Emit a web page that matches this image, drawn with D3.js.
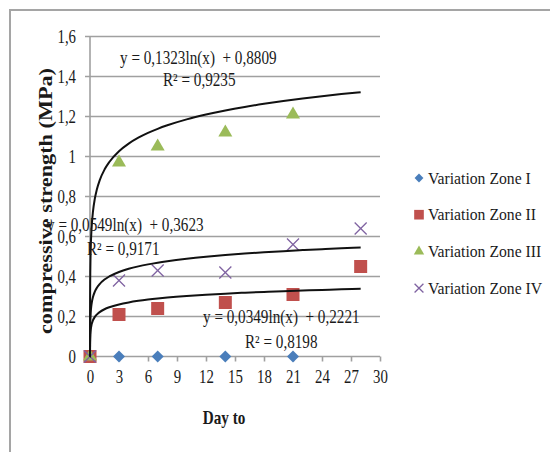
<!DOCTYPE html>
<html>
<head>
<meta charset="utf-8">
<script src="https://cdn.jsdelivr.net/npm/d3@7"></script>
<style>
  body { margin: 0; background: #fff; }
  text { font-family: "Liberation Serif", "Times New Roman", serif; fill: #1a1a1a; }
</style>
</head>
<body>
<svg id="chart"></svg>
<script>
// data
var zoneNames = ["Variation Zone I", "Variation Zone II", "Variation Zone III", "Variation Zone IV"];
var zoneColors = ["#4a7ebb", "#c0504d", "#9bbb59", "#8064a2"];
var zoneDays = [
    [0, 3, 7, 14, 21],
    [0, 3, 7, 14, 21, 28],
    [0, 3, 7, 14, 21],
    [0, 3, 7, 14, 21, 28]
];
var zoneValues = [
    [0, 0, 0, 0, 0],
    [0, 0.21, 0.24, 0.27, 0.31, 0.45],
    [0, 0.97, 1.05, 1.12, 1.21],
    [0, 0.38, 0.43, 0.42, 0.56, 0.64]
];
// log trendlines y = a ln(x) + b  (zones II, III, IV)
var trendZones = [1, 2, 3];
var trendA = [0.0349, 0.1323, 0.0549];
var trendB = [0.2221, 0.8809, 0.3623];
var trendEq = ["y = 0,0349ln(x)  + 0,2221", "y = 0,1323ln(x)  + 0,8809", "y = 0,0549ln(x)  + 0,3623"];
var trendR2 = ["R² = 0,8198", "R² = 0,9235", "R² = 0,9171"];

var xTicks = [0, 3, 6, 9, 12, 15, 18, 21, 24, 27, 30];
var yTicks = [0, 0.2, 0.4, 0.6, 0.8, 1, 1.2, 1.4, 1.6];

var width = 550, height = 452;

var svg = d3.select("#chart")
    .attr("width", width)
    .attr("height", height);

// the picture's text is tall and narrow, squeeze glyphs sideways
function squeeze(sel, f) {
    sel.each(function () {
        var w = this.getComputedTextLength();
        d3.select(this).attr("textLength", w * f).attr("lengthAdjust", "spacingAndGlyphs");
    });
}

// outer frame (cut by picture edges)
svg.append("path")
    .attr("d", "M10," + height + "V10H" + width)
    .attr("fill", "none")
    .attr("stroke", "#a5a5a5")
    .attr("stroke-width", 2);

var x = d3.scaleLinear().domain([0, 30]).range([90, 380]);
var y = d3.scaleLinear().domain([0, 1.6]).range([356.5, 36.5]);

var fmt = function (d) { return String(d).replace(".", ","); };

// gridlines + y ticks
svg.append("g")
    .selectAll("line")
    .data(yTicks)
    .enter().append("line")
    .attr("x1", 85)
    .attr("x2", x(30))
    .attr("y1", function (d) { return y(d); })
    .attr("y2", function (d) { return y(d); })
    .attr("stroke", "#a0a0a0")
    .attr("stroke-width", 1.6);

svg.append("g")
    .selectAll("text")
    .data(yTicks)
    .enter().append("text")
    .attr("x", 76)
    .attr("y", function (d) { return y(d); })
    .attr("dy", "0.35em")
    .attr("text-anchor", "end")
    .style("font-size", "19px")
    .text(fmt)
    .call(squeeze, 0.78);

// y axis line
svg.append("line")
    .attr("x1", x(0)).attr("x2", x(0))
    .attr("y1", y(1.6)).attr("y2", y(0))
    .attr("stroke", "#a0a0a0")
    .attr("stroke-width", 1.6);

// x axis ticks
var xAxis = svg.append("g")
    .attr("transform", "translate(0," + y(0) + ")")
    .call(d3.axisBottom(x).tickValues(xTicks).tickSize(5).tickPadding(8).tickFormat(fmt));
xAxis.select(".domain").remove();
xAxis.selectAll(".tick line").attr("stroke", "#a0a0a0").attr("stroke-width", 1.6);
xAxis.selectAll(".tick text")
    .style("font-family", "Liberation Serif, serif")
    .style("font-size", "19px")
    .attr("fill", "#1a1a1a")
    .call(squeeze, 0.78);

// axis titles
svg.append("text")
    .attr("transform", "translate(52,201) rotate(-90)")
    .attr("text-anchor", "middle")
    .attr("textLength", 266)
    .attr("lengthAdjust", "spacingAndGlyphs")
    .style("font-size", "18px")
    .style("font-weight", "bold")
    .text("compressive strength (MPa)");

svg.append("text")
    .attr("x", 224)
    .attr("y", 417)
    .attr("dy", "0.35em")
    .attr("text-anchor", "middle")
    .style("font-size", "19px")
    .style("font-weight", "bold")
    .text("Day to")
    .call(squeeze, 0.8);

// markers
var symbolTypes = [d3.symbolSquare, d3.symbolSquare, d3.symbolTriangle, d3.symbolX];
var symbolSizes = [72, 169, 85, 96];
var symbolRot = [45, 0, 0, 0];

function drawMarker(g, k, scaleFactor) {
    var p = g.append("path")
        .attr("d", d3.symbol().type(symbolTypes[k]).size(symbolSizes[k] * scaleFactor)());
    if (k === 3) {
        p.attr("fill", "none").attr("stroke", zoneColors[k]).attr("stroke-width", 1.3);
    } else {
        p.attr("fill", zoneColors[k]);
    }
    return p;
}

zoneNames.forEach(function (name, k) {
    var pts = zoneDays[k].map(function (d, i) { return [d, zoneValues[k][i]]; });
    svg.append("g")
        .selectAll("g")
        .data(pts)
        .enter().append("g")
        .attr("transform", function (d) {
            return "translate(" + x(d[0]) + "," + y(d[1]) + ") rotate(" + symbolRot[k] + ")";
        })
        .each(function () { drawMarker(d3.select(this), k, 1); });
});

// trendlines
var trendX = [0.001, 0.0015, 0.002, 0.003, 0.005, 0.007, 0.01, 0.015, 0.02, 0.03, 0.05, 0.07, 0.1, 0.15, 0.2, 0.3,
    0.5, 0.7, 1, 1.5, 2, 3, 4, 5, 6, 7, 8, 10, 12, 14, 16, 18, 20, 22, 24, 26, 28];
var line = d3.line()
    .x(function (d) { return x(d[0]); })
    .y(function (d) { return y(Math.max(0, d[1])); })
    .curve(d3.curveMonotoneX);

trendZones.forEach(function (k, j) {
    var pts = trendX.map(function (t) { return [t, trendA[j] * Math.log(t) + trendB[j]]; });
    svg.append("path")
        .datum(pts)
        .attr("d", line)
        .attr("fill", "none")
        .attr("stroke", "#111")
        .attr("stroke-width", 2);
});

// trendline labels (eq left x, eq y, r2 left x, r2 y)
var labelPos = [[203, 317, 245, 342], [120, 58, 163, 80], [47, 225, 87, 249]];
trendZones.forEach(function (k, j) {
    var p = labelPos[j];
    svg.append("text")
        .attr("x", p[0]).attr("y", p[1]).attr("dy", "0.35em")
        .style("font-size", "18.5px")
        .style("white-space", "pre")
        .text(trendEq[j])
        .call(squeeze, 0.82);
    svg.append("text")
        .attr("x", p[2]).attr("y", p[3]).attr("dy", "0.35em")
        .style("font-size", "18.5px")
        .text(trendR2[j])
        .call(squeeze, 0.82);
});

// legend
var legend = svg.append("g")
    .selectAll("g")
    .data(zoneNames)
    .enter().append("g")
    .attr("transform", function (d, i) { return "translate(419," + (178 + i * 36.7) + ")"; });

legend.each(function (d, k) {
    var g = d3.select(this);
    var m = g.append("g").attr("transform", "rotate(" + symbolRot[k] + ")");
    drawMarker(m, k, 0.55);
    g.append("text")
        .attr("x", 9)
        .attr("dy", "0.35em")
        .style("font-size", "16.5px")
        .text(d)
        .call(squeeze, 0.95);
});
</script>
</body>
</html>
